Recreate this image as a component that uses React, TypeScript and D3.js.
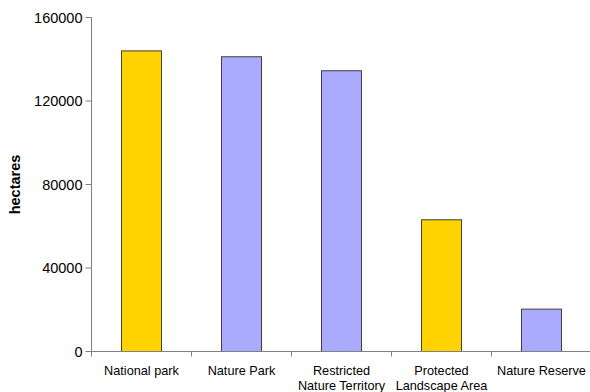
import React from "react";
import * as d3 from "d3";

const categories: string[][] = [
  ["National park"],
  ["Nature Park"],
  ["Restricted", "Nature Territory"],
  ["Protected", "Landscape Area"],
  ["Nature Reserve"],
];
const values: number[] = [144000, 141200, 134500, 63100, 20300];
const barColors: string[] = ["#FFD200", "#AAAAFF", "#AAAAFF", "#FFD200", "#AAAAFF"];
const yTicks: number[] = [0, 40000, 80000, 120000, 160000];
const yLabel = "hectares";

export default function App() {
  const W = 590, H = 392;
  const left = 91.5, right = 591.5, top = 17.5, bottom = 351.5;
  const idx = categories.map((_, i) => i);
  const x = d3.scaleBand<number>().domain(idx).range([left, right]).paddingInner(0.6).paddingOuter(0.3);
  const xb = d3.scaleBand<number>().domain(idx).range([left, right]);
  const y = d3.scaleLinear().domain([0, 160000]).range([bottom, top]);
  const font = "'Liberation Sans', Arial, sans-serif";
  const axisColor = "#808080";
  return (
    <svg width={W} height={H} style={{ position: "absolute", left: 0, top: 0 }} fontFamily={font}>
      {idx.map((i) => (
        <rect key={i} x={x(i)!} y={y(values[i])} width={x.bandwidth()} height={bottom - y(values[i])}
          fill={barColors[i]} stroke="#222" strokeOpacity={0.85} strokeWidth={1} />
      ))}
      <line x1={left} x2={left} y1={top} y2={bottom} stroke={axisColor} />
      <line x1={left} x2={right} y1={bottom} y2={bottom} stroke={axisColor} />
      {yTicks.map((t) => (
        <g key={t}>
          <line x1={left - 6} x2={left} y1={y(t)} y2={y(t)} stroke={axisColor} />
          <text x={left - 9} y={y(t)} dy="0.36em" textAnchor="end" fontSize={14.5} fill="#000">{t}</text>
        </g>
      ))}
      {idx.map((i) => (
        <line key={"t" + i} x1={xb(i)!} x2={xb(i)!} y1={bottom} y2={bottom + 5} stroke={axisColor} />
      ))}
      {idx.map((i) => (
        <text key={"c" + i} x={xb(i)! + xb.bandwidth() / 2} y={375} textAnchor="middle" fontSize={12.7} fill="#000">
          {categories[i].map((line, j) => (
            <tspan key={j} x={xb(i)! + xb.bandwidth() / 2} dy={j === 0 ? 0 : 15}>{line}</tspan>
          ))}
        </text>
      ))}
      <text transform={`translate(20,${(top + bottom) / 2}) rotate(-90)`} textAnchor="middle"
        fontSize={14.5} fontWeight="bold" fill="#000">{yLabel}</text>
    </svg>
  );
}
